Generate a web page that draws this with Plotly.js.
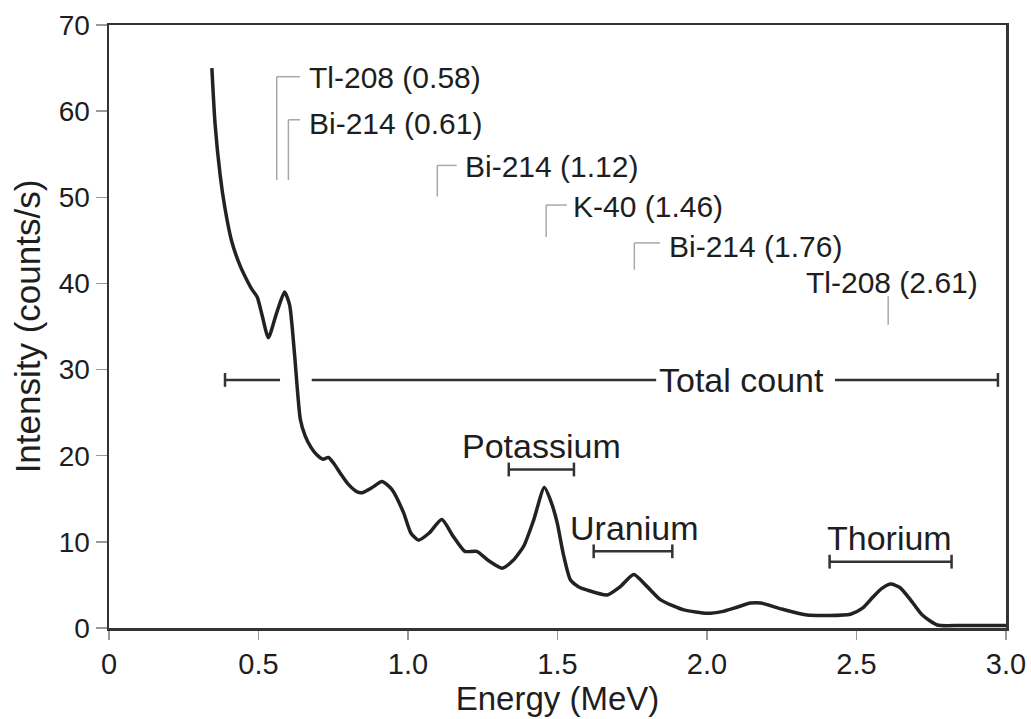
<!DOCTYPE html>
<html>
<head>
<meta charset="utf-8">
<script src="https://cdn.plot.ly/plotly-3.0.1.min.js"></script>
<style>html,body{margin:0;padding:0;background:#fff;}#chart{width:1031px;height:719px;}</style>
</head>
<body>
<div id="chart"></div>
<script>
// Gamma-ray spectrum
const energy = [0.344,0.355,0.372,0.388,0.411,0.439,0.458,0.478,0.496,0.512,0.533,0.560,0.587,0.604,0.620,0.640,0.656,0.675,0.695,0.715,0.734,0.752,0.773,0.800,0.830,0.846,0.880,0.913,0.946,0.985,1.010,1.035,1.070,1.113,1.152,1.190,1.230,1.270,1.315,1.350,1.387,1.420,1.456,1.480,1.499,1.520,1.543,1.570,1.600,1.666,1.710,1.755,1.800,1.845,1.923,2.000,2.050,2.090,2.146,2.180,2.250,2.335,2.480,2.520,2.555,2.585,2.615,2.645,2.680,2.720,2.770,2.850,3.000];
const intensity = [65.0,58.4,52.5,48.7,44.8,42.0,40.6,39.3,38.4,36.3,33.7,36.5,39.0,37.5,32.0,24.2,22.3,21.0,20.1,19.6,19.8,19.1,18.0,16.7,15.8,15.7,16.3,17.0,16.1,13.4,11.0,10.2,11.0,12.6,10.6,8.9,8.9,7.8,6.95,7.8,9.5,12.5,16.3,14.5,12.2,8.5,5.6,4.8,4.4,3.84,4.8,6.2,4.8,3.26,2.1,1.7,1.9,2.3,2.9,2.9,2.2,1.5,1.6,2.3,3.6,4.6,5.1,4.7,3.3,1.5,0.35,0.3,0.3];

// Peak labels (leader line energy, leader bottom/top, label position)
const peakLabels = ["Tl-208 (0.58)","Bi-214 (0.61)","Bi-214 (1.12)","K-40 (1.46)","Bi-214 (1.76)","Tl-208 (2.61)"];
const peakLineE = [0.561,0.600,1.098,1.462,1.757,2.606];
const peakLineBottom = [52.0,52.0,50.1,45.4,41.6,35.2];
const peakLineTop = [64.0,59.0,53.7,49.1,44.7,38.5];
const peakElbowEnd = [0.639,0.639,1.163,1.531,1.843,null];
const peakTextE = [0.661,0.661,1.185,1.544,1.865,2.618];
const peakTextI = [63.9,58.6,53.6,48.9,44.3,40.1];

// Energy windows
const windowLabels = ["Potassium","Uranium","Thorium"];
const windowStart = [1.337,1.621,2.410];
const windowEnd = [1.555,1.884,2.818];
const windowLevel = [18.4,8.9,7.7];
const windowTextE = [1.448,1.755,2.610];
const windowTextI = [21.1,11.6,10.4];

// Total count window
const totalStart = 0.388, totalEnd = 2.973, totalLevel = 28.8;
const totalGaps = [[0.572,0.678],[1.83,2.428]];
const totalTextE = 2.116;

// Axis ticks
const xTickVals = [0,0.5,1.0,1.5,2.0,2.5,3.0];
const xTickText = ["0","0.5","1.0","1.5","2.0","2.5","3.0"];
const yTickVals = [0,10,20,30,40,50,60,70];

const textColor = "#1e1e1e";
const leaderColor = "#a8a8a8";
const bracketColor = "#333";
const capH = 0.8;

const shapes = [];
const annotations = [];

peakLabels.forEach((t,i)=>{
  shapes.push({type:"line",xref:"x",yref:"y",x0:peakLineE[i],x1:peakLineE[i],y0:peakLineBottom[i],y1:peakLineTop[i],line:{color:leaderColor,width:1.5}});
  if(peakElbowEnd[i]!==null){
    shapes.push({type:"line",xref:"x",yref:"y",x0:peakLineE[i],x1:peakElbowEnd[i],y0:peakLineTop[i],y1:peakLineTop[i],line:{color:leaderColor,width:1.5}});
    annotations.push({x:peakTextE[i],y:peakTextI[i],xref:"x",yref:"y",text:t,showarrow:false,xanchor:"left",yanchor:"middle",font:{size:30,color:textColor,family:"Liberation Sans, Arial, sans-serif"}});
  } else {
    annotations.push({x:peakTextE[i],y:peakTextI[i],xref:"x",yref:"y",text:t,showarrow:false,xanchor:"center",yanchor:"middle",font:{size:30,color:textColor,family:"Liberation Sans, Arial, sans-serif"}});
  }
});

function bracket(x0,x1,y){
  shapes.push({type:"line",xref:"x",yref:"y",x0:x0,x1:x1,y0:y,y1:y,line:{color:bracketColor,width:2.5}});
}
function cap(x,y){
  shapes.push({type:"line",xref:"x",yref:"y",x0:x,x1:x,y0:y-capH,y1:y+capH,line:{color:bracketColor,width:2.5}});
}

windowLabels.forEach((t,i)=>{
  bracket(windowStart[i],windowEnd[i],windowLevel[i]);
  cap(windowStart[i],windowLevel[i]);
  cap(windowEnd[i],windowLevel[i]);
  annotations.push({x:windowTextE[i],y:windowTextI[i],xref:"x",yref:"y",text:t,showarrow:false,xanchor:"center",yanchor:"middle",font:{size:34,color:textColor,family:"Liberation Sans, Arial, sans-serif"}});
});

// total count with gaps
let segStart = totalStart;
totalGaps.forEach(g=>{ bracket(segStart,g[0],totalLevel); segStart = g[1]; });
bracket(segStart,totalEnd,totalLevel);
cap(totalStart,totalLevel); cap(totalEnd,totalLevel);
annotations.push({x:totalTextE,y:totalLevel,xref:"x",yref:"y",text:"Total count",showarrow:false,xanchor:"center",yanchor:"middle",font:{size:34,color:textColor,family:"Liberation Sans, Arial, sans-serif"}});

const trace = {x:energy,y:intensity,type:"scatter",mode:"lines",line:{color:"#222",width:3.5,shape:"spline",smoothing:0.6},hoverinfo:"skip"};

const layout = {
  width:1031,height:719,
  margin:{l:109,r:25,t:25,b:91},
  paper_bgcolor:"#fff",plot_bgcolor:"#fff",
  showlegend:false,
  xaxis:{range:[0,3.0],tickvals:xTickVals,ticktext:xTickText,ticks:"outside",ticklen:9,tickcolor:"#999",tickwidth:1.5,
    showline:true,linecolor:"#333",linewidth:2.5,mirror:true,showgrid:false,zeroline:false,
    tickfont:{size:29,color:textColor,family:"Liberation Sans Narrow, Arial Narrow, Liberation Sans, sans-serif"},
    title:{text:"Energy (MeV)",font:{size:33,color:textColor,family:"Liberation Sans, Arial, sans-serif"},standoff:8}},
  yaxis:{range:[0,70],tickvals:yTickVals,ticks:"outside",ticklen:11,tickcolor:"#999",tickwidth:1.5,
    showline:true,linecolor:"#333",linewidth:2.5,mirror:true,showgrid:false,zeroline:false,
    tickfont:{size:28,color:textColor,family:"Liberation Sans, Arial, sans-serif"},
    title:{text:"Intensity (counts/s)",font:{size:35,color:textColor,family:"Liberation Sans, Arial, sans-serif"},standoff:8}},
  shapes:shapes,
  annotations:annotations
};

Plotly.newPlot("chart",[trace],layout,{displayModeBar:false,staticPlot:true});
</script>
</body>
</html>
